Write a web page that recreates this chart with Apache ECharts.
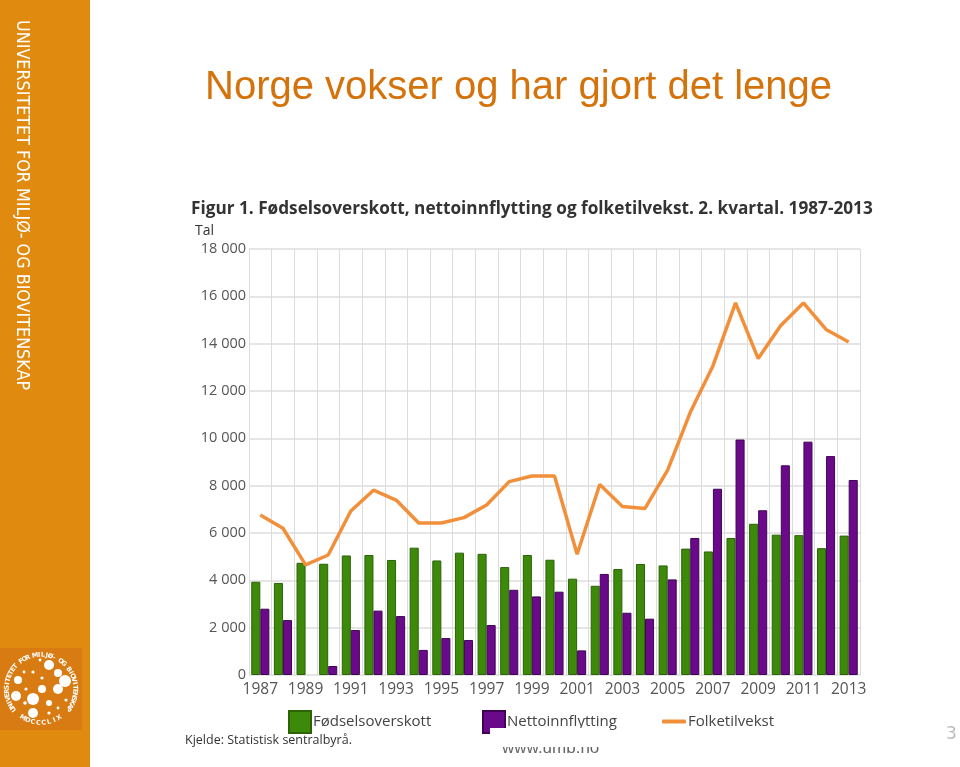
<!DOCTYPE html>
<html><head><meta charset="utf-8">
<script src="https://cdn.jsdelivr.net/npm/echarts@6/dist/echarts.min.js"></script>
<style>html,body{margin:0;padding:0;background:#fff}#c{width:960px;height:767px}</style>
</head><body><div id="c"></div>
<script>
const years = ['1987','1988','1989','1990','1991','1992','1993','1994','1995','1996','1997','1998','1999','2000','2001','2002','2003','2004','2005','2006','2007','2008','2009','2010','2011','2012','2013'];
const fodselsoverskott = [3940,3890,4740,4700,5050,5070,4860,5380,4840,5170,5120,4560,5070,4870,4070,3770,4480,4690,4630,5340,5220,5790,6390,5930,5910,5360,5890];
const nettoinnflytting = [2800,2320,-60,380,1900,2720,2490,1060,1560,1480,2110,3600,3320,3520,1040,4270,2630,2380,4040,5790,7870,9950,6960,8860,9860,9250,8240];
const folketilvekst = [6760,6200,4650,5070,6930,7810,7390,6420,6420,6650,7180,8170,8410,8410,5100,8050,7120,7040,8660,11100,13060,15720,13370,14770,15720,14600,14070];
const yTicks = {min:0, max:18000, interval:2000};

const chart = echarts.init(document.getElementById('c'), null, {renderer:'canvas'});
const FONT = 'Open Sans';
const GREEN = '#3d8a0b', PURPLE = '#6a0a8a', ORANGE = '#f28f3b';

// logo decoration
const logoCx = 41, logoCy = 689;
const ringText = 'UNIVERSITETET FOR MILJØ- OG BIOVITENSKAP';
const ringChars = [];
(function(){
  const r = 34; const n = ringText.length;
  const a0 = Math.PI*0.80, a1 = Math.PI*2.20;
  for (let i=0;i<n;i++){
    const a = a0 + (a1-a0)*i/(n-1);
    const x = logoCx + r*Math.cos(a), y = logoCy + r*Math.sin(a);
    ringChars.push({type:'text', x:x, y:y, rotation: -(a+Math.PI/2), z:10,
      style:{text:ringText[i], fill:'#fff', font:'bold 6.5px "DejaVu Sans"', textAlign:'center', textVerticalAlign:'middle'}});
  }
  const bt = 'MDCCCLIX'; const m = bt.length;
  for (let i=0;i<m;i++){
    const a = Math.PI*0.68 - (Math.PI*0.36)*i/(m-1);
    const x = logoCx + r*Math.cos(a), y = logoCy + r*Math.sin(a);
    ringChars.push({type:'text', x:x, y:y, rotation: -(a-Math.PI/2), z:10,
      style:{text:bt[i], fill:'#fff', font:'bold 6.5px "DejaVu Sans"', textAlign:'center', textVerticalAlign:'middle'}});
  }
})();
const dots = [[49,665,5],[58,673,4],[65,681,6],[18,680,4],[16,696,5],[33,699,6],[42,689,4],[58,689,5],[33,713,5],[49,703,3],[33,672,1.6],[42,678,1.6],[26,689,1.6],[25,703,1.8],[49,713,1.6],[66,700,1.6],[58,708,1.4],[40,660,1.4],[24,672,1.4]];
const dotEls = dots.map(d=>({type:'circle', shape:{cx:d[0], cy:d[1], r:d[2]}, style:{fill:'#fff'}, z:10}));

const legendText = {fontSize:15, color:'#444', fontFamily:FONT, padding:[0,0,0,-3]};

chart.setOption({
  animation:false,
  backgroundColor:'#fff',
  textStyle:{fontFamily:FONT},
  grid:{left:249, right:100, top:249, height:426, containLabel:false},
  xAxis:{
    type:'category', data:years, boundaryGap:true,
    axisLine:{show:false}, axisTick:{show:false},
    splitLine:{show:true, interval:0, lineStyle:{color:'#dcdcdc', width:1}},
    axisLabel:{interval:1, color:'#555', fontSize:15.5, fontFamily:FONT, margin:7}
  },
  yAxis:{
    type:'value', min:yTicks.min, max:yTicks.max, interval:yTicks.interval,
    axisLine:{show:false}, axisTick:{show:false},
    splitLine:{lineStyle:{color:'#dcdcdc', width:1.5}},
    axisLabel:{color:'#555', fontSize:14.5, fontFamily:FONT, margin:3,
      formatter:v=> v>=1000 ? Math.floor(v/1000)+' '+String(v%1000).padStart(3,'0') : String(v)}
  },
  legend:[
    {data:[{name:'Fødselsoverskott', icon:'rect'}], left:283, top:705, itemWidth:22, itemHeight:22, itemGap:0, textStyle:legendText},
    {data:[{name:'Nettoinnflytting', icon:'rect'}], left:477, top:705, itemWidth:22, itemHeight:22, itemGap:0, textStyle:legendText},
    {data:[{name:'Folketilvekst', icon:'roundRect'}], left:657, top:709, itemWidth:24, itemHeight:4, itemGap:0, textStyle:legendText}
  ],
  series:[
    {name:'Fødselsoverskott', type:'bar', data:fodselsoverskott, barGap:'0%', barCategoryGap:'20%',
      itemStyle:{color:GREEN, borderColor:'#2b6306', borderWidth:1}},
    {name:'Nettoinnflytting', type:'bar', data:nettoinnflytting, barGap:'0%', barCategoryGap:'20%',
      itemStyle:{color:PURPLE, borderColor:'#3f0554', borderWidth:1}},
    {name:'Folketilvekst', type:'line', data:folketilvekst, symbol:'none', z:5,
      lineStyle:{color:ORANGE, width:3.5}, itemStyle:{color:ORANGE}}
  ],
  graphic:[
    {type:'rect', shape:{x:0,y:0,width:90,height:767}, style:{fill:'#e08a0f'}, z:1},
    {type:'rect', shape:{x:0,y:648,width:82,height:82}, style:{fill:'#d87b12'}, z:2},
    ...dotEls, ...ringChars,
    {type:'text', x:13, y:20, rotation:-Math.PI/2, z:10,
      style:{text:'UNIVERSITETET FOR MILJØ- OG BIOVITENSKAP', fill:'#fff', font:'17.8px "DejaVu Sans Condensed"', textAlign:'left', textVerticalAlign:'bottom'}},
    {type:'text', left:205, top:68, z:10,
      style:{text:'Norge vokser og har gjort det lenge', fill:'#d4720b', font:'40px "Liberation Sans"'}},
    {type:'text', left:191, top:201, z:10,
      style:{text:'Figur 1. Fødselsoverskott, nettoinnflytting og folketilvekst. 2. kvartal. 1987-2013', fill:'#333', font:'bold 17.2px "Open Sans"'}},
    {type:'text', left:195, top:224, z:10,
      style:{text:'Tal', fill:'#333', font:'14px "Open Sans"'}},
    {type:'text', left:185, top:734, z:10,
      style:{text:'Kjelde: Statistisk sentralbyrå.', fill:'#333', font:'12.5px "Open Sans"'}},
    {type:'text', left:502, top:740, z:10,
      style:{text:'www.umb.no', fill:'#666', font:'17px "Liberation Sans"'}},
    {type:'rect', shape:{x:490,y:728,width:120,height:19}, style:{fill:'#fff'}, z:11},
    {type:'text', left:946, top:726, z:10,
      style:{text:'3', fill:'#bbb', font:'17px "DejaVu Sans"'}}
  ]
});
</script></body></html>
